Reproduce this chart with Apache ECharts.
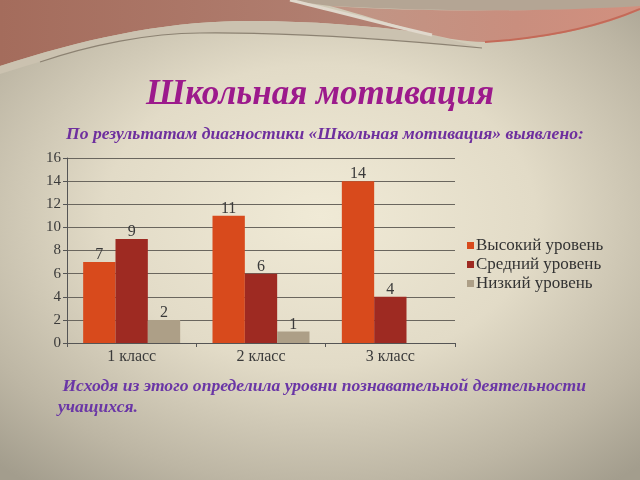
<!DOCTYPE html>
<html>
<head>
<meta charset="utf-8">
<script src="https://cdn.jsdelivr.net/npm/echarts@6/dist/echarts.min.js"></script>
<style>
html,body{margin:0;padding:0;}
#wrap{position:relative;width:640px;height:480px;background:radial-gradient(ellipse 75% 70% at 50% 45%, #f0ead6 0%, #e2dbc7 45%, #bdb6a4 80%, #a39d8d 100%);overflow:hidden;}
#deco{position:absolute;left:0;top:0;}
#c{position:absolute;left:0;top:0;width:640px;height:480px;}
</style>
</head>
<body>
<div id="wrap">
<svg id="deco" width="640" height="480" xmlns="http://www.w3.org/2000/svg">
  <defs>
    <linearGradient id="gb" x1="0" y1="0" x2="1" y2="0">
      <stop offset="0" stop-color="#a46c5c"/>
      <stop offset="1" stop-color="#b58476"/>
    </linearGradient>
    <linearGradient id="gp" x1="0" y1="0" x2="1" y2="0">
      <stop offset="0" stop-color="#bf9686"/>
      <stop offset="0.6" stop-color="#c98e7e"/>
      <stop offset="1" stop-color="#d2907f"/>
    </linearGradient>
  </defs>
  <path d="M290,0 L640,0 L640,6 C560,12 450,12 330,6 C315,4 300,2 290,0 Z" fill="#b4a594"/>
  <path d="M0,0 L290,0 C330,10 380,22 430,34 C360,24 300,21 240,21 C160,22 80,40 0,66 Z" fill="url(#gb)"/>
  <path d="M0,66 C80,40 160,22 240,21 C300,21 360,24 430,34 L482,48 C400,40 300,32 200,33 C130,34 70,52 0,74 Z" fill="#cbc2b0"/>
  <path d="M40,62 C90,45 150,33 200,33 C300,32 400,40 482,48" fill="none" stroke="#8c8272" stroke-width="1.2"/>
  <path d="M330,6 C420,12 540,12 640,6 L640,10 C600,28 540,40 485,42 C440,42 390,22 330,6 Z" fill="url(#gp)"/>
  <path d="M485,42 C550,38 600,26 640,9" fill="none" stroke="#c46a58" stroke-width="2"/>
  <path d="M290,0 C340,12 390,26 432,35" fill="none" stroke="#e0d8cc" stroke-width="3"/>
</svg>
<div id="c"></div>
</div>
<script>
const categories = ['1 класс', '2 класс', '3 класс'];
const seriesNames = ['Высокий уровень', 'Средний уровень', 'Низкий уровень'];
const high = [7, 11, 14];
const medium = [9, 6, 4];
const low = [2, 1, null];
const yTicks = { min: 0, max: 16, interval: 2 };
const colors = ['#d84a1c', '#9e2a22', '#ad9f87'];

const chart = echarts.init(document.getElementById('c'));
const serif = '"Liberation Serif", "DejaVu Serif", serif';
const labelStyle = { show: true, position: 'top', color: '#3a3a3a', fontSize: 16, fontFamily: serif, distance: -1 };

chart.setOption({
  animation: false,
  backgroundColor: 'transparent',
  title: [
    { text: 'Школьная мотивация', left: 'center', top: 72,
      textStyle: { color: '#9c1a8c', fontSize: 35, fontWeight: 'bold', fontStyle: 'italic', fontFamily: serif } },
    { text: 'По результатам диагностики «Школьная мотивация» выявлено:', left: 61, top: 120,
      textStyle: { color: '#6e2f9e', fontSize: 17.6, fontWeight: 'bold', fontStyle: 'italic', fontFamily: serif } },
    { text: ' Исходя из этого определила уровни познавательной деятельности\nучащихся.', left: 53, top: 371,
      textStyle: { color: '#6a36a6', fontSize: 17.6, fontWeight: 'bold', fontStyle: 'italic', fontFamily: serif, lineHeight: 21 } }
  ],
  legend: {
    orient: 'vertical', left: 462, top: 232, itemWidth: 7, itemHeight: 7, itemGap: 2,
    icon: 'rect', data: seriesNames,
    textStyle: { color: '#333', fontSize: 17, lineHeight: 17, fontFamily: serif, padding: [0, 0, 0, -3] }
  },
  grid: { left: 67, right: 185, top: 158, bottom: 137 },
  xAxis: {
    type: 'category', data: categories,
    axisLine: { lineStyle: { color: '#555', width: 1 } },
    axisTick: { show: true, length: 4, lineStyle: { color: '#555' } },
    axisLabel: { color: '#3a3a3a', fontSize: 16, fontFamily: serif, margin: 6 }
  },
  yAxis: {
    type: 'value', min: yTicks.min, max: yTicks.max, interval: yTicks.interval,
    axisLine: { show: true, lineStyle: { color: '#555' } },
    axisTick: { show: true, length: 4, lineStyle: { color: '#555' } },
    axisLabel: { color: '#3a3a3a', fontSize: 15, fontFamily: serif, margin: 6 },
    splitLine: { lineStyle: { color: '#6a665e', width: 1 } }
  },
  series: [
    { name: seriesNames[0], type: 'bar', data: high, itemStyle: { color: colors[0] }, barGap: '0%', barCategoryGap: '25%', label: labelStyle },
    { name: seriesNames[1], type: 'bar', data: medium, itemStyle: { color: colors[1] }, label: labelStyle },
    { name: seriesNames[2], type: 'bar', data: low, itemStyle: { color: colors[2] }, label: labelStyle }
  ]
});
</script>
</body>
</html>
